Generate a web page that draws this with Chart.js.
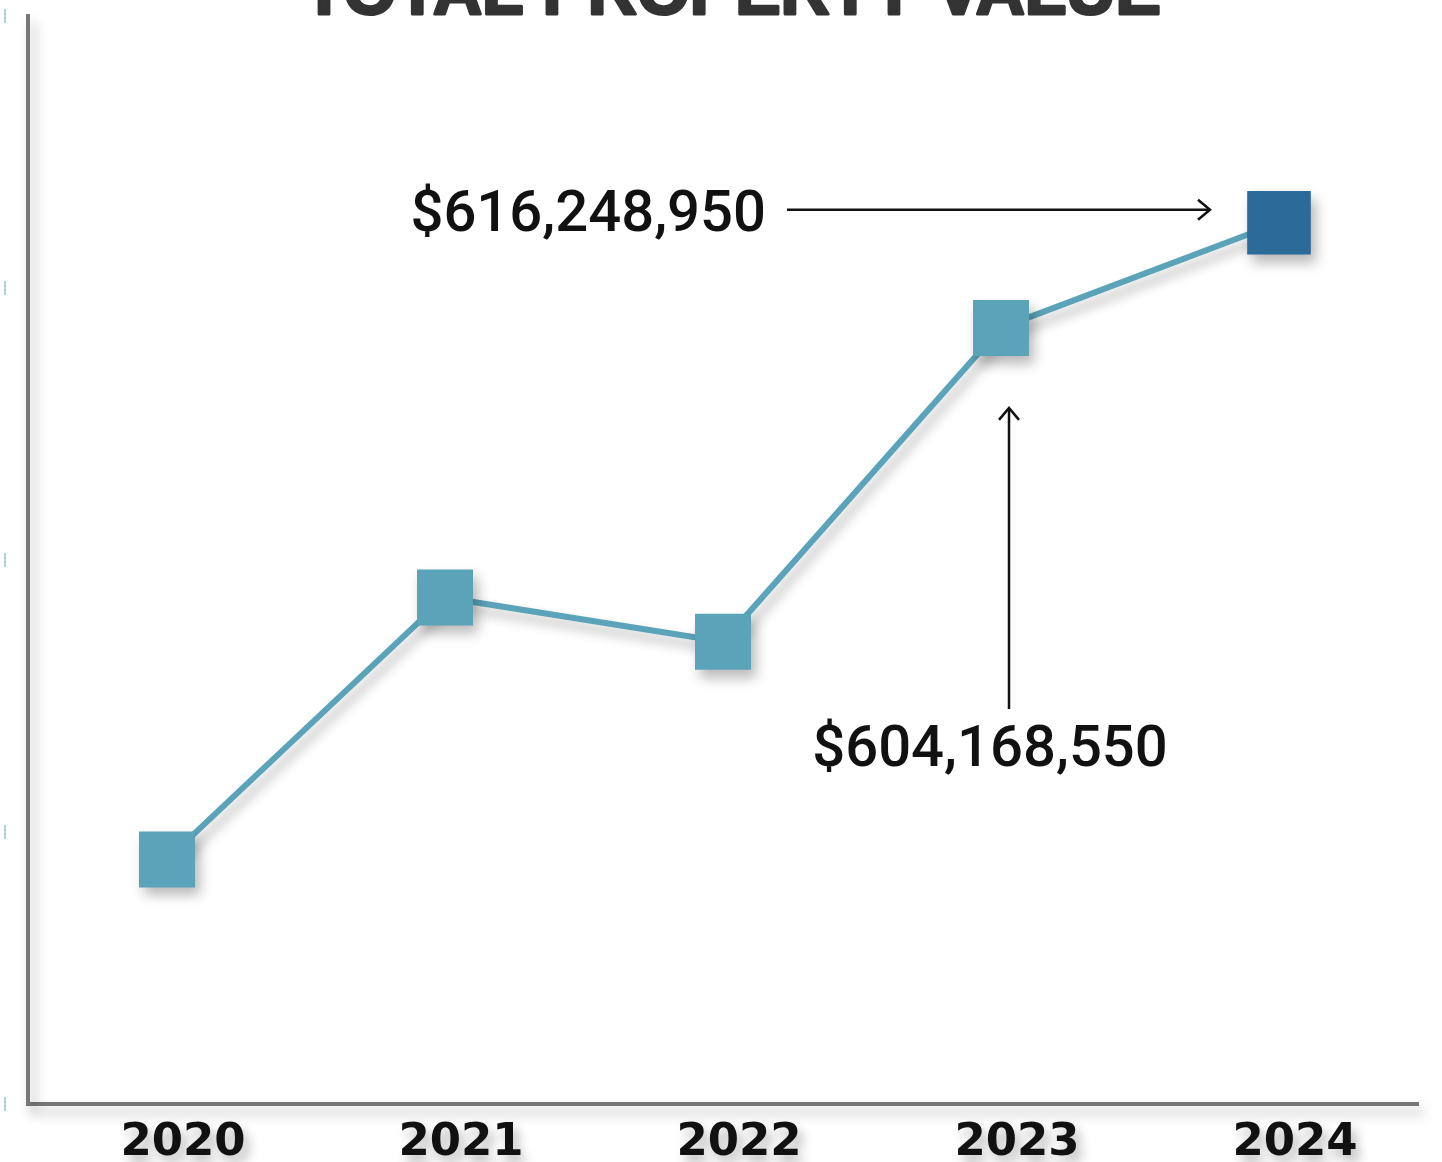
<!DOCTYPE html>
<html><head><meta charset="utf-8">
<script src="https://cdn.jsdelivr.net/npm/chart.js@4"></script>
<style>html,body{margin:0;padding:0;background:#fff;overflow:hidden}canvas{display:block}</style>
</head><body>
<canvas id="c" width="1442" height="1162"></canvas>
<script>
const categories = ['2020', '2021', '2022', '2023', '2024'];
const propertyValues = [543100000, 573200000, 568100000, 604168550, 616248950];
const yTicks = [515000000, 546250000, 577500000, 608750000, 640000000];
const titleText = 'TOTAL PROPERTY VALUE';
const calloutLatest = '$616,248,950';
const calloutPrevious = '$604,168,550';

const LIGHT = '#5aa3b9';
const DARK = '#2b6a99';

const shadowPlugin = {
  id: 'shadowPlugin',
  beforeDraw(chart) {
    const ctx = chart.ctx;
    ctx.save();
    ctx.fillStyle = '#fff';
    ctx.fillRect(0, 0, chart.width, chart.height);
    ctx.shadowColor = 'rgba(0,0,0,0.28)';
    ctx.shadowBlur = 12;
    ctx.shadowOffsetX = 5;
    ctx.shadowOffsetY = 8;
  },
  afterDatasetsDraw(chart) {
    chart.ctx.restore();
  }
};

function arrowHead(ctx, x, y, dx, dy) {
  const back = 12, side = 10;
  const px = -dy, py = dx;
  ctx.beginPath();
  ctx.moveTo(x - dx * back + px * side, y - dy * back + py * side);
  ctx.lineTo(x, y);
  ctx.lineTo(x - dx * back - px * side, y - dy * back - py * side);
  ctx.stroke();
}

const annotationPlugin = {
  id: 'annotationPlugin',
  afterDraw(chart) {
    const ctx = chart.ctx;
    const meta = chart.getDatasetMeta(0);
    const p3 = meta.data[3], p4 = meta.data[4];
    ctx.save();
    // title
    ctx.fillStyle = '#333';
    ctx.strokeStyle = '#333';
    ctx.lineWidth = 3;
    ctx.lineJoin = 'round';
    ctx.font = 'bold 68px "Liberation Sans", Arial, sans-serif';
    ctx.textAlign = 'center';
    ctx.textBaseline = 'alphabetic';
    ctx.fillText(titleText, 732, 14);
    ctx.strokeText(titleText, 732, 14);

    // y tick stubs
    const ys = chart.scales.y;
    ctx.strokeStyle = '#9dbfcc';
    ctx.lineWidth = 1.5;
    ys.ticks.forEach(t => {
      const y = ys.getPixelForValue(t.value);
      ctx.beginPath();
      ctx.moveTo(5, y - 7);
      ctx.lineTo(5, y + 7);
      ctx.stroke();
    });

    ctx.strokeStyle = '#111';
    ctx.fillStyle = '#111';
    ctx.lineWidth = 2.5;
    ctx.lineJoin = 'miter';
    ctx.font = '500 58px Roboto, sans-serif';

    // callout for latest
    const ax2 = p4.x - 69, ay = p4.y - 13, ax1 = ax2 - 423;
    ctx.beginPath();
    ctx.moveTo(ax1, ay);
    ctx.lineTo(ax2, ay);
    ctx.stroke();
    arrowHead(ctx, ax2, ay, 1, 0);
    ctx.textAlign = 'right';
    ctx.textBaseline = 'alphabetic';
    ctx.fillText(calloutLatest, ax1 - 21, ay + 21);

    // callout for previous
    const bx = p3.x + 8, by1 = p3.y + 80, by2 = p3.y + 381;
    ctx.beginPath();
    ctx.moveTo(bx, by2);
    ctx.lineTo(bx, by1);
    ctx.stroke();
    arrowHead(ctx, bx, by1, 0, -1);
    ctx.textAlign = 'center';
    ctx.fillText(calloutPrevious, p3.x - 11, p3.y + 438);
    ctx.restore();
  }
};

new Chart(document.getElementById('c'), {
  type: 'line',
  data: {
    labels: categories,
    datasets: [{
      data: propertyValues,
      borderColor: LIGHT,
      borderWidth: 6,
      pointStyle: 'rect',
      pointRadius: propertyValues.map((v, i) => i === propertyValues.length - 1 ? 45 : 39.6),
      pointHoverRadius: propertyValues.map((v, i) => i === propertyValues.length - 1 ? 45 : 39.6),
      pointBackgroundColor: propertyValues.map((v, i) => i === propertyValues.length - 1 ? DARK : LIGHT),
      pointBorderWidth: 0,
      pointBorderColor: 'rgba(0,0,0,0)',
      tension: 0,
      clip: false
    }]
  },
  options: {
    responsive: false,
    animation: false,
    devicePixelRatio: 1,
    events: [],
    layout: { autoPadding: false, padding: { top: 16, left: 20, right: 24, bottom: -12 } },
    plugins: { legend: { display: false }, tooltip: { enabled: false }, title: { display: false } },
    scales: {
      x: {
        type: 'category',
        offset: true,
        grid: { display: false },
        border: { display: true, color: '#777', width: 4 },
        ticks: {
          color: '#111',
          padding: 4,
          labelOffset: 16,
          font: { family: '"DejaVu Sans", sans-serif', weight: 'bold', size: 45, lineHeight: 1.2 }
        }
      },
      y: {
        min: yTicks[0],
        max: yTicks[yTicks.length - 1],
        afterBuildTicks: (scale) => { scale.ticks = yTicks.map(v => ({ value: v })); },
        grid: { display: false },
        border: { display: true, color: '#777', width: 4 },
        ticks: { display: false }
      }
    }
  },
  plugins: [shadowPlugin, annotationPlugin]
});
</script>
</body></html>
